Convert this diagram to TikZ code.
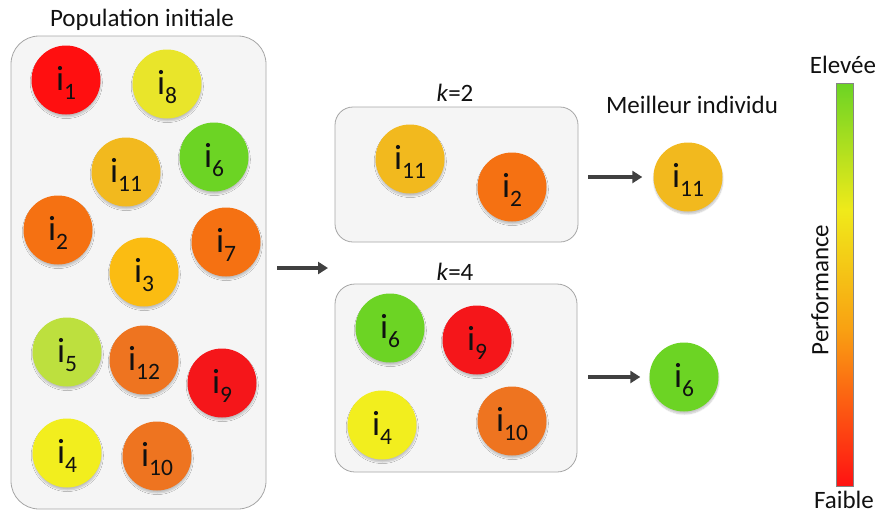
\documentclass[tikz,border=0pt]{standalone}
\usepackage{fontspec}
\setmainfont{Carlito}
\usetikzlibrary{arrows.meta,shadows.blur}
\definecolor{cA}{HTML}{FF0F10}
\definecolor{cB}{HTML}{E9E52A}
\definecolor{cC}{HTML}{F2B91E}
\definecolor{cD}{HTML}{6CD424}
\definecolor{cE}{HTML}{F57112}
\definecolor{cF}{HTML}{FBBC12}
\definecolor{cG}{HTML}{BDE03E}
\definecolor{cH}{HTML}{EE7420}
\definecolor{cI}{HTML}{F5161A}
\definecolor{cJ}{HTML}{F2EE1E}
\definecolor{boxfill}{HTML}{F5F5F5}
\definecolor{boxline}{HTML}{A6A6A6}
\definecolor{arrcol}{HTML}{404040}
\definecolor{txt}{HTML}{111111}
\definecolor{gTop}{HTML}{6CD424}
\definecolor{gYel}{HTML}{F0EA1A}
\definecolor{gOra}{HTML}{F9A012}
\definecolor{gRed}{HTML}{FF1212}
\newcommand{\ilab}[1]{\rule{0pt}{30pt}i\raisebox{-8.5pt}{\fontsize{23.5}{24}\selectfont #1}}
\tikzset{
  ind/.style={circle, minimum size=69pt, inner sep=0pt, text=txt,
    font=\fontsize{35}{36}\selectfont,
    blur shadow={shadow xshift=0.3pt, shadow yshift=-2.5pt, shadow blur steps=6, shadow opacity=22, shadow blur radius=1.5pt}},
  grp/.style={draw=boxline, fill=boxfill, line width=0.8pt},
  lbl/.style={text=txt, font=\fontsize{25}{30}\selectfont, inner sep=0pt},
  arr/.style={draw=arrcol, line width=3.2pt, -{Triangle[length=10pt,width=12pt]}},
}
\begin{document}
\begin{tikzpicture}[x=1pt,y=-1pt]
\useasboundingbox (0,0) rectangle (881,515);
% groups
\node[grp, rounded corners=28pt, minimum width=255pt, minimum height=473pt] (pop) at (138.5,272.5) {};
\node[grp, rounded corners=18pt, minimum width=243pt, minimum height=135pt] (k2) at (456.5,174.5) {};
\node[grp, rounded corners=20pt, minimum width=242pt, minimum height=188pt] (k4) at (456,378) {};
% titles
\node[lbl] (tpop) at (142,20) {Population initiale};
\node[lbl] (tk2) at (455,93) {\textit{k}=2};
\node[lbl] (tk4) at (455,272) {\textit{k}=4};
\node[lbl] (tbest) at (692,105) {Meilleur individu};
% population
\node[ind, fill=cA] (p1) at (66,80) {\ilab{1}};
\node[ind, fill=cB] (p8) at (167,84) {\ilab{8}};
\node[ind, fill=cC] (p11) at (126,172) {\ilab{11}};
\node[ind, fill=cD] (p6) at (214,157) {\ilab{6}};
\node[ind, fill=cE] (p2) at (58,230) {\ilab{2}};
\node[ind, fill=cE] (p7) at (226,242) {\ilab{7}};
\node[ind, fill=cF] (p3) at (144,272) {\ilab{3}};
\node[ind, fill=cG] (p5) at (67,352) {\ilab{5}};
\node[ind, fill=cH] (p12) at (144,360) {\ilab{12}};
\node[ind, fill=cI] (p9) at (222,383) {\ilab{9}};
\node[ind, fill=cJ] (p4) at (67,453) {\ilab{4}};
\node[ind, fill=cH] (p10) at (157,456) {\ilab{10}};
% k=2
\node[ind, fill=cC] (a11) at (410,159) {\ilab{11}};
\node[ind, fill=cE] (a2) at (512,187) {\ilab{2}};
% k=4
\node[ind, fill=cD] (b6) at (390,328) {\ilab{6}};
\node[ind, fill=cI] (b9) at (477,340) {\ilab{9}};
\node[ind, fill=cJ] (b4) at (382,425) {\ilab{4}};
\node[ind, fill=cH] (b10) at (512,421) {\ilab{10}};
% results
\node[ind, fill=cC] (r1) at (688,177) {\ilab{11}};
\node[ind, fill=cD] (r2) at (684,377) {\ilab{6}};
% arrows
\coordinate (split) at (328,268);
\draw[arr] ([shift={(11,-4.5)}]pop.east) -- (split);
\draw[arr, shorten <=10pt, shorten >=11pt] (k2.east |- r1) -- (r1.west);
\draw[arr, shorten <=11pt, shorten >=9pt] (k4.east |- r2) -- (r2.west);
% performance bar
\shade[top color=gTop, bottom color=gYel] (836,83) rectangle (853,210.5);
\shade[top color=gYel, bottom color=gOra] (836,210) rectangle (853,330.5);
\shade[top color=gOra, bottom color=gRed] (836,330) rectangle (853,486);
\node[draw=boxline!80!black, line width=0.6pt, inner sep=0pt, minimum width=17pt, minimum height=403pt] (bar) at (844.5,284.5) {};
\node[lbl] (hi) at (843,65) {Elevée};
\node[lbl] (lo) at (844,500) {Faible};
\node[lbl, rotate=90] (perf) at (820,290) {Performance};
\end{tikzpicture}
\end{document}
